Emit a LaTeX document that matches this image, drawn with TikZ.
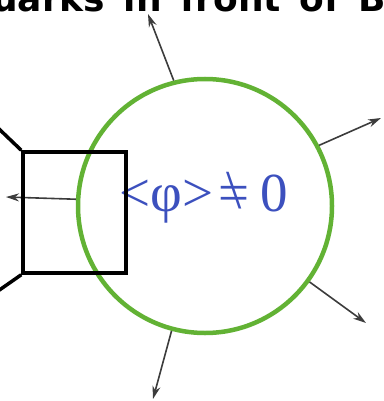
\documentclass[tikz,border=0pt]{standalone}
\usepackage{fontspec}
\setmainfont{Liberation Serif}
\newfontfamily\topfont{DejaVu Sans}
\usetikzlibrary{arrows.meta}
\definecolor{ringgreen}{RGB}{98,178,52}
\definecolor{phiblue}{RGB}{60,80,190}
\definecolor{arrowgray}{RGB}{60,60,60}
\newcommand{\bsneq}{\ooalign{=\cr\hidewidth\raisebox{0.05em}{\textbackslash}\hidewidth\cr}}
\begin{document}
\begin{tikzpicture}[x=1pt,y=-1pt,
  ray/.style={draw=arrowgray, line width=1.6pt, -{Stealth[length=13pt,width=8pt]}},
  ring/.style={circle, draw=ringgreen, line width=4.5pt, minimum size=254pt, inner sep=0pt},
  frame/.style={rectangle, draw=black, line width=3.5pt, minimum width=103pt, minimum height=121pt, inner sep=0pt},
  edge/.style={draw=black, line width=3.5pt}]
\useasboundingbox (0,0) rectangle (383,401);
\clip (0,0) rectangle (383,401);
\node[anchor=base west, font=\topfont\bfseries\fontsize{36}{36}\selectfont, inner sep=0pt] (title) at (-8,12) {\makebox[418pt][s]{uarks in front of Ba}};
\node[ring] (c) at (205,206) {};
\node[font=\fontsize{55}{55}\selectfont, text=phiblue, inner sep=0pt] (val) at (204,199) {<φ>\kern0.1em\bsneq\kern0.2em 0};
\coordinate (t1) at (148,14);
\coordinate (t2) at (381,118);
\coordinate (t3) at (366,323);
\coordinate (t4) at (153,399);
\coordinate (t5) at (6,197);
\draw[ray] (c.104.5) -- (t1);
\draw[ray] (c.28.4) -- (t2);
\draw[ray] (c.-36.8) -- (t3);
\draw[ray] (c.255.3) -- (t4);
\draw[ray] (c.177.3) -- (t5);
\node[frame] (sq) at (74.5,212.5) {};
\coordinate (e1) at (-2,128);
\coordinate (e2) at (-2,291);
\draw[edge] (sq.north west) -- (e1);
\draw[edge] (sq.south west) -- (e2);
\end{tikzpicture}
\end{document}
